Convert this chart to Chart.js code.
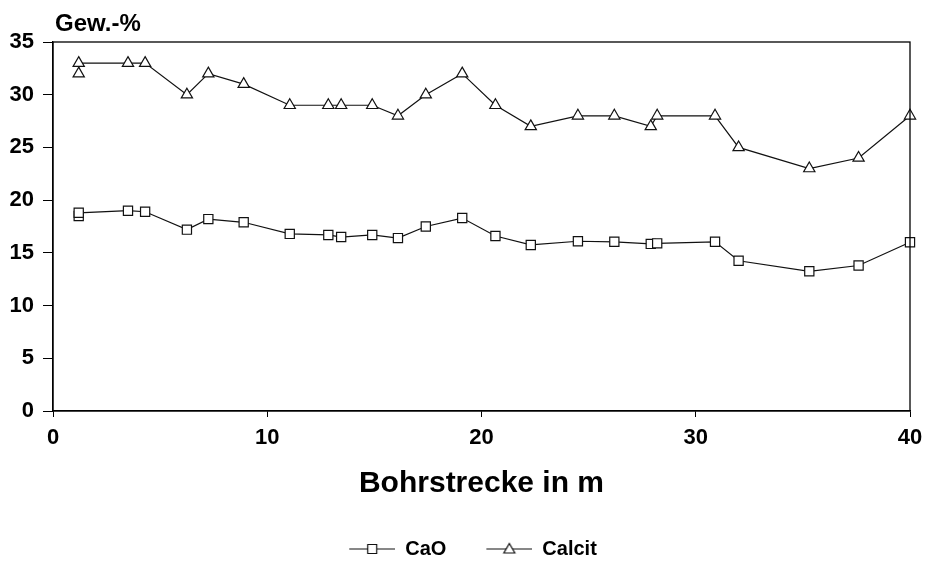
<!DOCTYPE html>
<html>
<head>
<meta charset="utf-8">
<script src="https://cdn.jsdelivr.net/npm/chart.js@4"></script>
<style>
  html, body { margin: 0; padding: 0; background: #fff; }
  #wrap { width: 933px; height: 562px; }
</style>
</head>
<body>
<div id="wrap"><canvas id="plot" width="933" height="562"></canvas></div>
<script>
'use strict';

// Bohrstrecke (m) - same sample positions for both series
const DEPTHS = [1.2, 1.2, 3.5, 4.3, 6.25, 7.25, 8.9, 11.05, 12.85, 13.45, 14.9, 16.1, 17.4,
    19.1, 20.65, 22.3, 24.5, 26.2, 27.9, 28.2, 30.9, 32.0, 35.3, 37.6, 40];

const CAO = [18.5, 18.8, 19.0, 18.9, 17.2, 18.2, 17.9, 16.8, 16.7, 16.5, 16.7, 16.4, 17.5,
    18.3, 16.6, 15.75, 16.1, 16.05, 15.85, 15.9, 16.05, 14.25, 13.25, 13.8, 16.0];

const CALCIT = [32, 33, 33, 33, 30, 32, 31, 29, 29, 29, 29, 28, 30,
    32, 29, 27, 28, 28, 27, 28, 28, 25, 23, 24, 28];

const X_TICKS = [0, 10, 20, 30, 40];
const Y_TICKS = [0, 5, 10, 15, 20, 25, 30, 35];

const FONT = 'Liberation Sans, Arial, sans-serif';

function points(xs, ys) {
    return xs.map((x, i) => ({ x: x, y: ys[i] }));
}

// little line + marker picture for the legend (blank strip on the left = item spacing)
const ICON_GAP = 36;
const ICON_LINE = 46;

function legendIcon(style) {
    const c = document.createElement('canvas');
    c.width = ICON_GAP + ICON_LINE;
    c.height = 14;
    const g = c.getContext('2d');
    const x0 = ICON_GAP;
    const mid = x0 + ICON_LINE / 2;
    g.strokeStyle = '#111';
    g.lineWidth = 1.2;
    g.beginPath();
    g.moveTo(x0, 7);
    g.lineTo(x0 + ICON_LINE, 7);
    g.stroke();
    g.fillStyle = '#fff';
    g.beginPath();
    if (style === 'rect') {
        g.rect(mid - 4.5, 2.5, 9, 9);
    } else {
        g.moveTo(mid, 1.5);
        g.lineTo(mid + 5.5, 11);
        g.lineTo(mid - 5.5, 11);
        g.closePath();
    }
    g.fill();
    g.stroke();
    return c;
}

// frame around the plot and the unit label above the y axis
const framePlugin = {
    id: 'frame',
    afterDraw(chart) {
        const a = chart.chartArea;
        const ctx = chart.ctx;
        ctx.save();
        ctx.strokeStyle = '#000';
        ctx.lineWidth = 1.3;
        ctx.strokeRect(a.left, a.top, a.right - a.left, a.bottom - a.top);
        ctx.fillStyle = '#000';
        ctx.font = 'bold 24px ' + FONT;
        ctx.textBaseline = 'alphabetic';
        ctx.textAlign = 'left';
        ctx.fillText('Gew.-%', a.left + 2, 31);
        ctx.restore();
    }
};

const icons = { rect: legendIcon('rect'), triangle: legendIcon('triangle') };

const data = {
    datasets: [
        {
            label: 'CaO',
            data: points(DEPTHS, CAO),
            borderColor: '#111',
            borderWidth: 1.2,
            pointStyle: 'rect',
            pointRadius: 6.5,
            pointBackgroundColor: '#fff',
            pointBorderColor: '#111',
            pointBorderWidth: 1.2,
            clip: false
        },
        {
            label: 'Calcit',
            data: points(DEPTHS, CALCIT),
            borderColor: '#111',
            borderWidth: 1.2,
            pointStyle: 'triangle',
            pointRadius: 6.5,
            pointBackgroundColor: '#fff',
            pointBorderColor: '#111',
            pointBorderWidth: 1.2,
            clip: false
        }
    ]
};

const config = {
    type: 'line',
    data: data,
    plugins: [framePlugin],
    options: {
        responsive: false,
        animation: false,
        layout: {
            padding: { top: 42, right: 23, left: 0, bottom: -7 }
        },
        plugins: {
            tooltip: { enabled: false },
            legend: {
                position: 'bottom',
                onClick: null,
                labels: {
                    color: '#000',
                    font: { family: FONT, size: 20, weight: 'bold' },
                    usePointStyle: true,
                    pointStyleWidth: ICON_GAP + ICON_LINE,
                    padding: 4,
                    generateLabels(chart) {
                        return chart.data.datasets.map((ds, i) => ({
                            text: ds.label,
                            pointStyle: icons[ds.pointStyle],
                            fontColor: '#000',
                            lineWidth: 0,
                            strokeStyle: 'rgba(0,0,0,0)',
                            fillStyle: 'rgba(0,0,0,0)',
                            datasetIndex: i,
                            hidden: false
                        }));
                    }
                }
            }
        },
        scales: {
            x: {
                type: 'linear',
                min: 0,
                max: 40,
                afterBuildTicks(scale) {
                    scale.ticks = X_TICKS.map(v => ({ value: v }));
                },
                afterFit(scale) {
                    const lg = scale.chart.legend;
                    scale.height = scale.chart.height + 7 - (lg ? lg.height : 28) - 411;
                },
                grid: {
                    drawOnChartArea: false,
                    drawTicks: true,
                    tickLength: 6,
                    color: '#000'
                },
                border: { display: true, color: '#000', width: 1.3 },
                ticks: {
                    color: '#000',
                    padding: 8,
                    maxRotation: 0,
                    font: { family: FONT, size: 22, weight: 'bold' }
                },
                title: {
                    display: true,
                    text: 'Bohrstrecke in m',
                    color: '#000',
                    font: { family: FONT, size: 30, weight: 'bold' },
                    padding: { top: 0, bottom: 33 }
                }
            },
            y: {
                type: 'linear',
                min: 0,
                max: 35,
                afterBuildTicks(scale) {
                    scale.ticks = Y_TICKS.map(v => ({ value: v }));
                },
                afterFit(scale) {
                    scale.width = 53;
                },
                grid: {
                    drawOnChartArea: false,
                    drawTicks: true,
                    tickLength: 10,
                    color: '#000'
                },
                border: { display: true, color: '#000', width: 1.3 },
                ticks: {
                    color: '#000',
                    padding: 9,
                    font: { family: FONT, size: 22, weight: 'bold' }
                }
            }
        }
    }
};

new Chart(document.getElementById('plot'), config);
</script>
</body>
</html>
